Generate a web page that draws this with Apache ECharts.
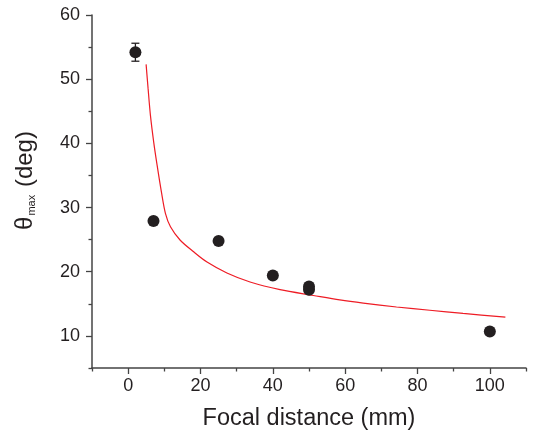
<!DOCTYPE html>
<html>
<head>
<meta charset="utf-8">
<script src="https://cdn.jsdelivr.net/npm/echarts@6/dist/echarts.min.js"></script>
<style>
  html, body { margin: 0; padding: 0; background: #fff; }
  #chart { width: 533px; height: 436px; }
</style>
</head>
<body>
<div id="chart"></div>
<script>
// Measured maximum angle versus focal distance
const focal = [2, 7, 25, 40, 50, 50, 100];
const theta = [54.2, 27.9, 24.8, 19.4, 17.7, 17.2, 10.7];

// Error bar (only the first measurement carries one)
const errFocal = [2];
const errLow = [52.8];
const errHigh = [55.6];

// Fitted curve, sampled along its length
const fitX = [4.96, 5.5, 6.15, 7.06, 8.0, 9.2, 10.3, 11.7, 14.4, 18.1, 21.8, 27.3, 33.7, 42, 51.2, 58.5, 65, 74.2, 83.4, 92.6, 104.3];
const fitY = [52.3, 48.6, 44.4, 40.2, 36.6, 32.4, 29.1, 27.0, 24.9, 23.1, 21.5, 19.8, 18.4, 17.2, 16.3, 15.6, 15.1, 14.5, 14.0, 13.5, 12.93];

// Tick positions
const xMajor = [0, 20, 40, 60, 80, 100];
const xMinor = [-10, 10, 30, 50, 70, 90, 110];
const yMajor = [10, 20, 30, 40, 50, 60];
const yMinor = [5, 15, 25, 35, 45, 55];

const ink = '#231f20';
const axisInk = '#444';
const font = 'Liberation Sans, Arial, sans-serif';

const chart = echarts.init(document.getElementById('chart'), null, { renderer: 'canvas' });

const xBase = { type: 'value', min: -10, max: 110, position: 'bottom', splitLine: { show: false } };
const yBase = { type: 'value', min: 5, max: 60, position: 'left', splitLine: { show: false } };

chart.setOption({
  animation: false,
  backgroundColor: '#fff',
  grid: { left: 92, right: 7, top: 15, bottom: 68 },
  xAxis: [
    Object.assign({}, xBase, {
      name: 'Focal distance (mm)',
      nameLocation: 'middle',
      nameGap: 39,
      nameTextStyle: { color: ink, fontSize: 23.5, fontFamily: font },
      axisLine: { show: true, onZero: false, lineStyle: { color: axisInk, width: 1.5 } },
      axisTick: { show: true, length: 6, lineStyle: { color: axisInk, width: 1.3 }, customValues: xMajor },
      axisLabel: { color: ink, fontSize: 18, fontFamily: font, margin: 9, customValues: xMajor }
    }),
    Object.assign({}, xBase, {
      axisLine: { show: false, onZero: false },
      axisTick: { show: true, length: 3.5, lineStyle: { color: axisInk, width: 1.3 }, customValues: xMinor },
      axisLabel: { show: false }
    })
  ],
  yAxis: [
    Object.assign({}, yBase, {
      name: '{t|θ}{s|max}{t| (deg)}',
      nameLocation: 'middle',
      nameGap: 55,
      nameRotate: 90,
      nameTextStyle: {
        color: ink, fontFamily: font,
        padding: [0, 0, 0, 22],
        rich: {
          t: { fontSize: 24, color: ink, fontFamily: font },
          s: { fontSize: 11, color: ink, fontFamily: font, verticalAlign: 'bottom', padding: [0, 1, 0, 1] }
        }
      },
      axisLine: { show: true, onZero: false, lineStyle: { color: axisInk, width: 1.5 } },
      axisTick: { show: true, length: 6, lineStyle: { color: axisInk, width: 1.3 }, customValues: yMajor },
      axisLabel: { color: ink, fontSize: 18, fontFamily: font, margin: 12, customValues: yMajor }
    }),
    Object.assign({}, yBase, {
      axisLine: { show: false, onZero: false },
      axisTick: { show: true, length: 3.5, lineStyle: { color: axisInk, width: 1.3 }, customValues: yMinor },
      axisLabel: { show: false }
    })
  ],
  series: [
    {
      type: 'line',
      data: fitX.map((x, i) => [x, fitY[i]]),
      smooth: 0.3,
      showSymbol: false,
      lineStyle: { color: '#ee1c25', width: 1.2 },
      z: 2
    },
    {
      type: 'custom',
      data: errFocal.map((x, i) => [x, errLow[i], errHigh[i]]),
      renderItem: function (params, api) {
        const lo = api.coord([api.value(0), api.value(1)]);
        const hi = api.coord([api.value(0), api.value(2)]);
        const cap = 4;
        const style = { stroke: ink, lineWidth: 1.3 };
        return {
          type: 'group',
          children: [
            { type: 'line', shape: { x1: lo[0], y1: lo[1], x2: hi[0], y2: hi[1] }, style: style },
            { type: 'line', shape: { x1: lo[0] - cap, y1: lo[1], x2: lo[0] + cap, y2: lo[1] }, style: style },
            { type: 'line', shape: { x1: hi[0] - cap, y1: hi[1], x2: hi[0] + cap, y2: hi[1] }, style: style }
          ]
        };
      },
      z: 3
    },
    {
      type: 'scatter',
      data: focal.map((x, i) => [x, theta[i]]),
      symbol: 'circle',
      symbolSize: 12,
      itemStyle: { color: ink, opacity: 1 },
      z: 4
    }
  ]
});
</script>
</body>
</html>
